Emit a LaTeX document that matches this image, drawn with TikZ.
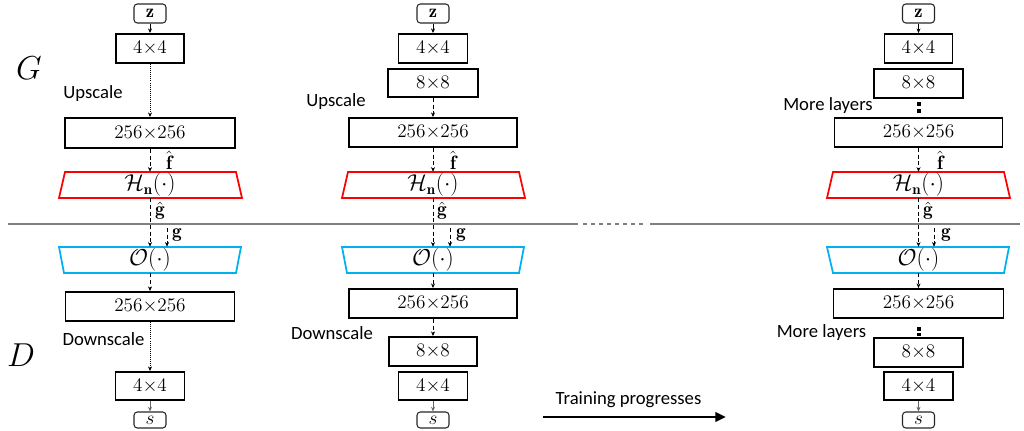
\documentclass[tikz,border=0pt]{standalone}
\usepackage{fontspec}
\newfontfamily\labelfont{Carlito}
\usetikzlibrary{arrows.meta}
\definecolor{oblue}{RGB}{0,176,240}
\definecolor{hred}{RGB}{255,0,0}
\definecolor{sepgray}{RGB}{128,128,128}
\newcommand{\dimx}[2]{$#1{\times}#2$}
\begin{document}
\begin{tikzpicture}[x=0.75pt,y=-0.75pt,
  box/.style={draw, line width=1.4pt, inner sep=0pt, minimum height=29*0.75pt, font=\fontsize{15}{17}\selectfont},
  iobox/.style={draw=black!85, line width=0.8pt, rounded corners=2.5pt, inner sep=0pt, minimum width=32*0.75pt, font=\fontsize{14}{16}\selectfont},
  lbl/.style={font=\labelfont\fontsize{14}{16}\selectfont, inner sep=0pt},
  mlbl/.style={font=\fontsize{14.5}{16}\selectfont, inner sep=0pt},
  biglbl/.style={font=\fontsize{27}{30}\selectfont, inner sep=0pt},
  trapnode/.style={inner sep=0pt, minimum height=26*0.75pt, font=\fontsize{16}{18}\selectfont},
  flow/.style={line width=0.55pt, densely dashed, -{Stealth[length=3.5pt,width=3pt]}},
  dotflow/.style={line width=0.55pt, densely dotted, -{Stealth[length=3.5pt,width=3pt]}},
  solidflow/.style={line width=0.55pt, -{Stealth[length=3.5pt,width=3pt]}},
  hbox/.style={draw=hred, line width=1.3pt},
  obox/.style={draw=oblue, line width=1.3pt},
  sep/.style={draw=sepgray, line width=1.5pt},
  ]
\useasboundingbox (0,0) rectangle (1024,431);

% G / D
\node[biglbl] (G) at (29,68) {$G$};
\node[biglbl] (D) at (21,355) {$D$};

% separator
\coordinate (l1) at (8,224);
\coordinate (l2) at (578,224);
\coordinate (l3) at (583,224);
\coordinate (l4) at (645,224);
\coordinate (l5) at (650,224);
\coordinate (l6) at (1020,224);
\draw[sep] (l1) -- (l2);
\draw[sep, dash pattern=on 3pt off 3pt] (l3) -- (l4);
\draw[sep] (l5) -- (l6);

% ---------- column 1 ----------
\node[iobox, minimum height=19*0.75pt] (z1) at (150,13.5) {$\mathbf{z}$};
\node[box, minimum width=68*0.75pt] (a1) at (150,48.5) {\dimx{4}{4}};
\node[box, minimum width=170*0.75pt, minimum height=30*0.75pt] (c1) at (150,133) {\dimx{256}{256}};
\draw[hbox] (65,172)--(236,172)--(242,198)--(59,198)--cycle;
\node[trapnode] (h1) at (150,185) {$\mathcal{H}_{\mathbf{n}}(\cdot)$};
\draw[obox] (59,247)--(241,247)--(236,273)--(64,273)--cycle;
\node[trapnode] (o1) at (150,260) {$\mathcal{O}(\cdot)$};
\node[box, minimum width=169*0.75pt] (e1) at (150,306.5) {\dimx{256}{256}};
\node[box, minimum width=69*0.75pt, minimum height=28*0.75pt] (f1) at (150,386) {\dimx{4}{4}};
\node[iobox, minimum height=16*0.75pt] (s1) at (150,420) {$s$};
\node[lbl] (u1) at (93,94) {Upscale};
\node[lbl] (w1) at (103.5,339) {Downscale};
\node[mlbl] (fh1) at (169,160.5) {$\hat{\mathbf{f}}$};
\node[mlbl] (gh1) at (160,211) {$\hat{\mathbf{g}}$};
\node[mlbl] (gl1) at (177,235) {$\mathbf{g}$};
\coordinate (g1) at (167,228);
\draw[solidflow] (z1) -- (a1);
\draw[dotflow] (a1) -- (c1);
\draw[flow] (c1) -- (h1);
\draw[flow] (h1) -- (o1);
\draw[flow] (g1) -- (g1 |- o1.north);
\draw[flow] (o1) -- (e1);
\draw[dotflow] (e1) -- (f1);
\draw[solidflow, black!60] (f1) -- (s1);

% ---------- column 2 ----------
\node[iobox, minimum height=19*0.75pt] (z2) at (433,13.5) {$\mathbf{z}$};
\node[box, minimum width=69*0.75pt] (a2) at (433,48.5) {\dimx{4}{4}};
\node[box, minimum width=90*0.75pt, minimum height=28*0.75pt] (b2) at (433,83) {\dimx{8}{8}};
\node[box, minimum width=168*0.75pt] (c2) at (433,132.5) {\dimx{256}{256}};
\draw[hbox] (348,172)--(519,172)--(525,198)--(342,198)--cycle;
\node[trapnode] (h2) at (433,185) {$\mathcal{H}_{\mathbf{n}}(\cdot)$};
\draw[obox] (342,247)--(524,247)--(519,273)--(347,273)--cycle;
\node[trapnode] (o2) at (433,260) {$\mathcal{O}(\cdot)$};
\node[box, minimum width=168*0.75pt] (e2) at (433,303.5) {\dimx{256}{256}};
\node[box, minimum width=88*0.75pt] (k2) at (433,351.5) {\dimx{8}{8}};
\node[box, minimum width=69*0.75pt, minimum height=28*0.75pt] (f2) at (433,386) {\dimx{4}{4}};
\node[iobox, minimum height=16*0.75pt] (s2) at (433,420) {$s$};
\node[lbl] (u2) at (336,102) {Upscale};
\node[lbl] (w2) at (332,333) {Downscale};
\node[mlbl] (fh2) at (453,160.5) {$\hat{\mathbf{f}}$};
\node[mlbl] (gh2) at (442,211) {$\hat{\mathbf{g}}$};
\node[mlbl] (gl2) at (461,235) {$\mathbf{g}$};
\coordinate (g2) at (450,228);
\draw[solidflow] (z2) -- (a2);
\draw[flow] (b2) -- (c2);
\draw[flow] (c2) -- (h2);
\draw[flow] (h2) -- (o2);
\draw[flow] (g2) -- (g2 |- o2.north);
\draw[flow] (o2) -- (e2);
\draw[flow] (e2) -- (k2);
\draw[solidflow, black!60] (f2) -- (s2);

% ---------- column 3 ----------
\node[iobox, minimum height=19*0.75pt] (z3) at (918.5,13.5) {$\mathbf{z}$};
\node[box, minimum width=68*0.75pt] (a3) at (918.5,48.5) {\dimx{4}{4}};
\node[box, minimum width=89*0.75pt] (b3) at (918.5,83.5) {\dimx{8}{8}};
\fill (916.5,102) rectangle (920.5,106);
\fill (916.5,109.5) rectangle (920.5,113.5);
\node[box, minimum width=168*0.75pt] (c3) at (918.5,132.5) {\dimx{256}{256}};
\draw[hbox] (833,172)--(1004,172)--(1010,198)--(827,198)--cycle;
\node[trapnode] (h3) at (918.5,185) {$\mathcal{H}_{\mathbf{n}}(\cdot)$};
\draw[obox] (827,247)--(1009,247)--(1004,273)--(833,273)--cycle;
\node[trapnode] (o3) at (918.5,260) {$\mathcal{O}(\cdot)$};
\node[box, minimum width=170*0.75pt] (e3) at (918.5,303.5) {\dimx{256}{256}};
\fill (916.5,327) rectangle (920.5,330.5);
\fill (916.5,332.5) rectangle (920.5,336);
\node[box, minimum width=89*0.75pt] (k3) at (918.5,352.5) {\dimx{8}{8}};
\node[box, minimum width=69*0.75pt, minimum height=28*0.75pt] (f3) at (918.5,386) {\dimx{4}{4}};
\node[iobox, minimum height=16*0.75pt] (s3) at (918.5,420) {$s$};
\node[lbl] (u3) at (828,106) {More layers};
\node[lbl] (w3) at (821.5,333) {More layers};
\node[mlbl] (fh3) at (940,160.5) {$\hat{\mathbf{f}}$};
\node[mlbl] (gh3) at (928,211) {$\hat{\mathbf{g}}$};
\node[mlbl] (gl3) at (946,235) {$\mathbf{g}$};
\coordinate (g3) at (934,228);
\draw[solidflow] (z3) -- (a3);
\draw[flow] (c3) -- (h3);
\draw[flow] (h3) -- (o3);
\draw[flow] (g3) -- (g3 |- o3.north);
\draw[flow] (o3) -- (e3);
\draw[solidflow, black!60] (f3) -- (s3);

% training progresses
\node[lbl] (tp) at (628.5,400) {Training progresses};
\coordinate (tp1) at (543,417);
\coordinate (tp2) at (726,417);
\draw[line width=2.2pt, -{Triangle[length=8pt,width=7pt]}] (tp1) -- (tp2);
\end{tikzpicture}
\end{document}
